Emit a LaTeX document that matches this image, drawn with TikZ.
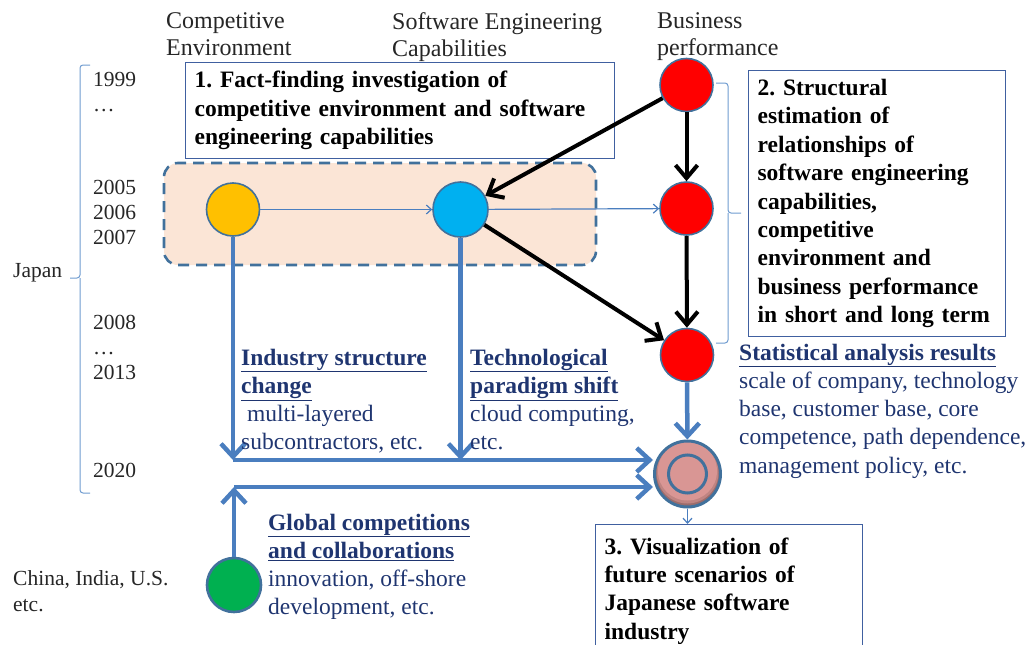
\documentclass[tikz,border=0pt]{standalone}
\usepackage{fontspec}
\setmainfont{Liberation Serif}[BoldFont={Liberation Serif Bold}]
\frenchspacing
\usetikzlibrary{arrows.meta}

\definecolor{navy}{HTML}{1F3570}
\definecolor{ringblue}{HTML}{41719C}
\definecolor{flowblue}{HTML}{4A7EBF}
\definecolor{boxline}{HTML}{4060A0}
\definecolor{peach}{HTML}{FBE5D6}
\definecolor{bracecol}{HTML}{6F9BD0}
\definecolor{titlegray}{HTML}{262626}
\definecolor{rosefill}{HTML}{D99694}
\definecolor{ambercol}{HTML}{FFC000}
\definecolor{cyancol}{HTML}{00B0F0}
\definecolor{greencol}{HTML}{00B050}

\begin{document}
\begin{tikzpicture}[x=1pt,y=-1pt,
  title/.style={font=\fontsize{24}{27}\selectfont, text=titlegray, align=left, anchor=north west, inner sep=0pt},
  yearcol/.style={font=\fontsize{21.5}{25}\selectfont, text=titlegray, align=left, anchor=north west, inner sep=0pt},
  stepbox/.style={draw=boxline, line width=1.2pt, fill=white, align=left, anchor=north west,
    font=\bfseries\fontsize{23.5}{28.4}\selectfont, inner xsep=9pt},
  finding/.style={font=\fontsize{23.5}{28.3}\selectfont, text=navy, align=left, anchor=north west, inner sep=0pt},
  dot/.style={circle, draw=ringblue, line width=1.6pt, minimum size=53pt, inner sep=0pt},
  causal/.style={line width=4pt, -{Straight Barb[length=13pt,width=22pt]}},
  flow/.style={draw=flowblue, line width=4.5pt, -{Straight Barb[length=13pt,width=24pt]}},
  thinflow/.style={draw=flowblue, line width=1.2pt, -{Straight Barb[length=5pt,width=9pt]}},
  bracket/.style={draw=bracecol, line width=1pt, rounded corners=3pt}
]
\useasboundingbox (0,0) rectangle (1029,645);
\clip (0,0) rectangle (1029,645);

% column headings
\node[title] (hcomp) at (166,12.8) {Competitive\\Environment};
\node[title] (hsoft) at (392,12.8) {Software Engineering\\Capabilities};
\node[title] (hbus)  at (657,12.8) {Business\\performance};

% time axis
\node[yearcol] (y1999) at (93,72.5) {1999\\…};
\node[yearcol] (y2005) at (93,179.5) {2005\\2006\\2007};
\node[yearcol] (y2008) at (93,314.5) {2008\\…\\2013};
\node[yearcol] (y2020) at (93,462.5) {2020};
\node[yearcol] (japan) at (13,262.8) {Japan};
\node[yearcol, font=\fontsize{21.5}{26}\selectfont] (abroad) at (13,570.5) {China, India, U.S.\\etc.};

% braces
\draw[bracket] (90,65) -| (80,278) -- (70,278);
\draw[bracket] (80,278) |- (90,493);
\draw[bracket] (716,83) -| (728,213) -- (741,213);
\draw[bracket] (728,213) |- (716,343);

% survey period frame
\node[draw=ringblue, fill=peach, line width=2.6pt, dash pattern=on 11pt off 7pt,
      rounded corners=14pt, minimum width=432pt, minimum height=102pt, inner sep=0pt]
      (era) at (380,214) {};

% step boxes
\node[stepbox, text width=411pt, inner ysep=8.5pt] (fact) at (185,62)
  {1. Fact-finding investigation of\\competitive environment and software\\engineering capabilities};
\node[stepbox, text width=239pt, inner ysep=8.6pt] (structural) at (748,70)
  {2. Structural\\estimation of\\relationships of\\software engineering\\capabilities,\\competitive\\environment and\\business performance\\in short and long term};
\node[stepbox, text width=249pt, inner ysep=13pt] (visual) at (595,524)
  {3. Visualization of\\future scenarios of\\Japanese software\\industry};

% variables
\node[dot, fill=ambercol] (amber) at (233,209.5) {};
\node[dot, fill=cyancol, minimum size=55pt] (cyan) at (460.5,209.5) {};
\node[dot, fill=red] (r1) at (686.5,85) {};
\node[dot, fill=red] (r2) at (686.5,208.5) {};
\node[dot, fill=red] (r3) at (687,355) {};
\node[dot, fill=greencol, line width=2.6pt, minimum size=54pt] (green) at (234,585) {};
% scenario node: rose disc with a darker lower rim and an inner ring
\node[circle, draw=ringblue, line width=3pt, minimum size=66pt, inner sep=0pt,
      path picture={
        \fill[rosefill!72!black] (path picture bounding box.center) circle[radius=34pt];
        \fill[rosefill!88!black] ([yshift=1.5pt]path picture bounding box.center) circle[radius=31pt];
        \fill[rosefill] ([yshift=3pt]path picture bounding box.center) circle[radius=29.5pt];
      }] (final) at (687.5,474) {};
\draw[ringblue, line width=3pt] (final.center) circle[radius=19pt];

% junction points of the flows
\coordinate (jA) at (233,460);
\coordinate (jB) at (460.5,460);
\coordinate (jC) at (234,487);

% thin links inside the survey period
\draw[thinflow] (amber) -- (cyan);
\draw[thinflow] (cyan) -- (r2);

% causal links
\draw[causal] (r1) -- (r2);
\draw[causal] (r1) -- (cyan);
\draw[causal] (r2) -- (r3);
\draw[causal] (cyan) -- (r3);

% flows into the scenario node
\draw[flow] (amber) -- (jA);
\draw[flow] (cyan) -- (jB);
\draw[flow] (jA) -- (jA -| final.west);
\draw[flow] (green) -- (jC);
\draw[flow] (jC) -- (jC -| final.west);
\draw[flow] (r3) -- (final);
\draw[thinflow] (final.south) -- (final.south |- visual.north);

% findings
\node[finding] (indlab) at (241,348.5)
  {\textbf{\underline{Industry structure}}\\\textbf{\underline{change}}\\\hspace*{0.25em}multi-layered\\subcontractors, etc.};
\node[finding] (techlab) at (470,348.5)
  {\textbf{\underline{Technological}}\\\textbf{\underline{paradigm shift}}\\cloud computing,\\etc.};
\node[finding] (globlab) at (268,513.5)
  {\textbf{\underline{Global competitions}}\\\textbf{\underline{and collaborations}}\\innovation, off-shore\\development, etc.};
\node[finding] (statlab) at (739,343.5)
  {\textbf{\underline{Statistical analysis results}}\\scale of company, technology\\base, customer base, core\\competence, path dependence,\\management policy, etc.};
\end{tikzpicture}
\end{document}
